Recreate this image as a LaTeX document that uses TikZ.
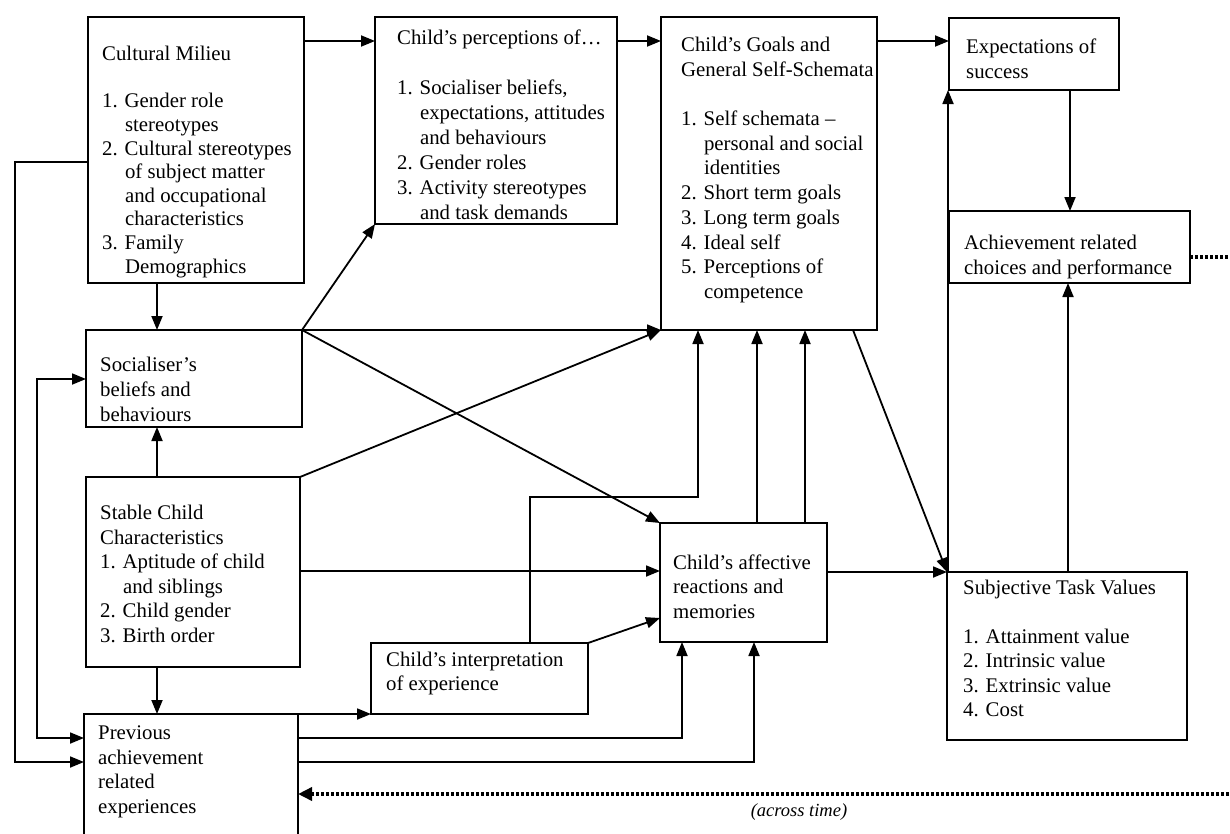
\documentclass[tikz,border=0pt]{standalone}
\usepackage{fontspec}
\setmainfont{Liberation Serif}
\usetikzlibrary{arrows.meta,calc}
\newcommand\myind{\hspace*{1.1em}}
\begin{document}
\begin{tikzpicture}[x=1pt,y=-1pt,
 box/.style={draw,line width=2pt,inner sep=0pt,outer sep=0pt,anchor=north west},
 txt/.style={anchor=north west,inner sep=0pt,align=left,font=\fontsize{20.8}{24.6}\selectfont},
 conn/.style={line width=1.8pt,-{Triangle[length=14pt,width=11pt]}},
 both/.style={line width=1.8pt,{Triangle[length=14pt,width=11pt]}-{Triangle[length=14pt,width=11pt]}},
 dots/.style={line width=3.6pt,dash pattern=on 3pt off 2pt},
 dotarrow/.style={dots,-{Triangle[length=14pt,width=13pt]}}]
\path[use as bounding box] (0,0) rectangle (1230,833);
\fill[white] (0,0) rectangle (1230,833);
\clip (0,0) rectangle (1230,833);

% boxes
\node[box,minimum width=216pt,minimum height=266pt] (cm) at (88,17) {};
\node[box,minimum width=242pt,minimum height=207pt] (pc) at (375,17) {};
\node[box,minimum width=216pt,minimum height=313pt] (gl) at (661,17) {};
\node[box,minimum width=170pt,minimum height=72pt] (ex) at (949,18) {};
\node[box,minimum width=241pt,minimum height=72pt] (ac) at (949,211) {};
\node[box,minimum width=216pt,minimum height=97pt] (so) at (86,330) {};
\node[box,minimum width=214pt,minimum height=190pt] (st) at (86,477) {};
\node[box,minimum width=214pt,minimum height=160pt] (pr) at (84,714) {};
\node[box,minimum width=217pt,minimum height=71pt] (ip) at (371,643) {};
\node[box,minimum width=167pt,minimum height=119pt] (af) at (660,523) {};
\node[box,minimum width=240pt,minimum height=168pt] (sv) at (947,572) {};

% texts
\node[txt,font=\fontsize{20.8}{23.6}\selectfont] (cmT) at ($(cm.north west)+(14,27)$)
 {\strut Cultural Milieu\\~\\1. Gender role\\\myind stereotypes\\2. Cultural stereotypes\\\myind of subject matter\\\myind and occupational\\\myind characteristics\\3. Family\\\myind Demographics};
\node[txt,font=\fontsize{20.8}{25}\selectfont] (pcT) at ($(pc.north west)+(22,10)$)
 {\strut Child’s perceptions of…\\~\\1. Socialiser beliefs,\\\myind expectations, attitudes\\\myind and behaviours\\2. Gender roles\\3. Activity stereotypes\\\myind and task demands};
\node[txt,font=\fontsize{20.8}{24.7}\selectfont] (glT) at ($(gl.north west)+(20,17)$)
 {\strut Child’s Goals and\\General Self-Schemata\\~\\1. Self schemata –\\\myind personal and social\\\myind identities\\2. Short term goals\\3. Long term goals\\4. Ideal self\\5. Perceptions of\\\myind competence};
\node[txt,font=\fontsize{20.8}{25}\selectfont] (exT) at ($(ex.north west)+(17,18)$)
 {\strut Expectations of\\success};
\node[txt,font=\fontsize{20.8}{25}\selectfont] (acT) at ($(ac.north west)+(15,21)$)
 {\strut Achievement related\\choices and performance};
\node[txt,font=\fontsize{20.8}{25}\selectfont] (soT) at ($(so.north west)+(14,24)$)
 {\strut Socialiser’s\\beliefs and\\behaviours};
\node[txt,font=\fontsize{20.8}{24.6}\selectfont] (stT) at ($(st.north west)+(14,25)$)
 {\strut Stable Child\\Characteristics\\1. Aptitude of child\\\myind and siblings\\2. Child gender\\3. Birth order};
\node[txt,font=\fontsize{20.8}{24.7}\selectfont] (prT) at ($(pr.north west)+(14,8)$)
 {\strut Previous\\achievement\\related\\experiences};
\node[txt,font=\fontsize{20.8}{24}\selectfont] (ipT) at ($(ip.north west)+(15,6)$)
 {\strut Child’s interpretation\\of experience};
\node[txt,font=\fontsize{20.8}{24.5}\selectfont] (afT) at ($(af.north west)+(13,29)$)
 {\strut Child’s affective\\reactions and\\memories};
\node[txt,font=\fontsize{20.8}{24.5}\selectfont] (svT) at ($(sv.north west)+(16,5)$)
 {\strut Subjective Task Values\\~\\1. Attainment value\\2. Intrinsic value\\3. Extrinsic value\\4. Cost};
\node[font=\itshape\fontsize{18.5}{22}\selectfont,inner sep=0pt] (atime) at (799,812) {(across time)};

% port coordinates
\coordinate (xa) at (157,0);
\coordinate (y41) at (0,41);
\coordinate (xex) at (1070,0);
\coordinate (y571) at (0,571);
\coordinate (x853) at (853,0);
\coordinate (x948) at (948,0);
\coordinate (x1068) at (1068,0);
\coordinate (dotA) at (1234,257);
\coordinate (dotB) at (1234,794);
\coordinate (k1) at (530,497);
\coordinate (k2) at (698,497);
\coordinate (y618) at (0,618);
\coordinate (p1) at (682,738);
\coordinate (p2) at (754,762);
\coordinate (q1) at (15,162);
\coordinate (q2) at (15,762);
\coordinate (r1) at (37,379);
\coordinate (r2) at (37,738);
\coordinate (x757) at (757,0);
\coordinate (x805) at (805,0);

% connectors
\draw[conn] (cm.east |- y41) -- (pc.west |- y41);
\draw[conn] (pc.east |- y41) -- (gl.west |- y41);
\draw[conn] (gl.east |- y41) -- (ex.west |- y41);
\draw[conn] (ex.south -| xex) -- (ac.north -| xex);
\draw[conn] (cm.south -| xa) -- (so.north -| xa);
\draw[conn] (st.north -| xa) -- (so.south -| xa);
\draw[conn] (st.south -| xa) -- (pr.north -| xa);
\draw[conn] (so.north east) -- (pc.south west);
\draw[conn] (so.north east) -- (gl.south west);
\draw[conn] (so.north east) -- (af.north west);
\draw[conn] (st.north east) -- (gl.south west);
\draw[conn] (st.east |- y571) -- (af.west |- y571);
\draw[conn] (af.east |- sv.north) -- (sv.north west);
\draw[conn] (gl.south -| x853) -- (sv.north west);
\draw[conn] (sv.north -| x948) -- (ex.south -| x948);
\draw[conn] (sv.north -| x1068) -- (ac.south -| x1068);
\draw[dots] (ac.east |- dotA) -- (dotA);
\draw[dotarrow] (dotB) -- (pr.east |- dotB);
\draw[conn] (pr.north east) -- (ip.south west);
\draw[conn] (ip.north -| k1) -- (k1) -- (k2) -- (gl.south -| k2);
\draw[conn] (ip.north east) -- (af.west |- y618);
\draw[conn] (pr.east |- p1) -- (p1) -- (af.south -| p1);
\draw[conn] (pr.east |- p2) -- (p2) -- (af.south -| p2);
\draw[conn] (af.north -| x757) -- (gl.south -| x757);
\draw[conn] (af.north -| x805) -- (gl.south -| x805);
\draw[conn] (cm.west |- q1) -- (q1) -- (q2) -- (pr.west |- q2);
\draw[both] (so.west |- r1) -- (r1) -- (r2) -- (pr.west |- r2);
\end{tikzpicture}
\end{document}
